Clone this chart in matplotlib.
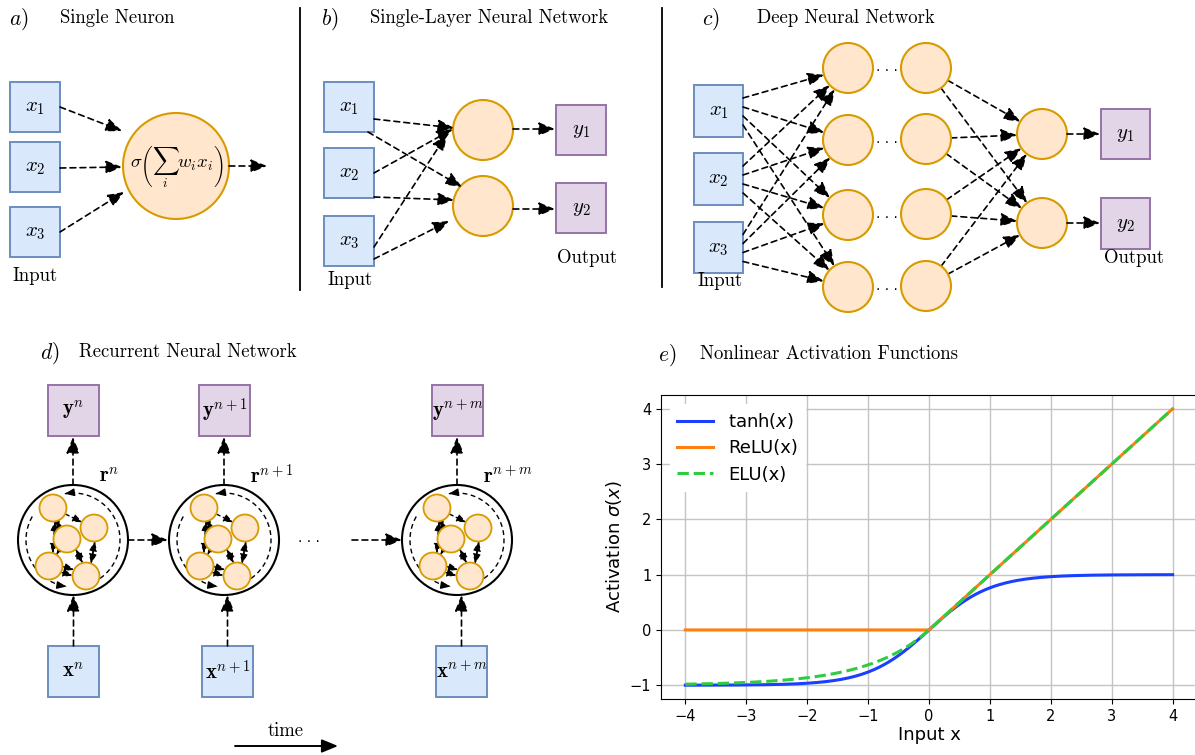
import numpy as np
import matplotlib.pyplot as plt
from matplotlib.patches import Circle, Rectangle

# colours (draw.io palette)
BLUE_FC, BLUE_EC = "#dae8fc", "#6c8ebf"
ORANGE_FC, ORANGE_EC = "#ffe6cc", "#d79b00"
PURPLE_FC, PURPLE_EC = "#e1d5e7", "#9673a6"

# panel headings
panel_letters = ["$a)$", "$b)$", "$c)$", "$d)$", "$e)$"]
panel_titles = ["Single Neuron", "Single-Layer Neural Network", "Deep Neural Network",
                "Recurrent Neural Network", "Nonlinear Activation Functions"]

# node labels
input_labels = ["$x_1$", "$x_2$", "$x_3$"]
output_labels = ["$y_1$", "$y_2$"]
rnn_out_labels = [r"$\mathbf{y}^{n}$", r"$\mathbf{y}^{n+1}$", r"$\mathbf{y}^{n+m}$"]
rnn_in_labels = [r"$\mathbf{x}^{n}$", r"$\mathbf{x}^{n+1}$", r"$\mathbf{x}^{n+m}$"]
rnn_state_labels = [r"$\mathbf{r}^{n}$", r"$\mathbf{r}^{n+1}$", r"$\mathbf{r}^{n+m}$"]

# activation functions (panel e)
x_in = np.linspace(-4, 4, 401)
tanh_y = np.tanh(x_in)
relu_y = np.maximum(x_in, 0)
elu_y = np.where(x_in > 0, x_in, np.exp(x_in) - 1)
x_ticks = [-4, -3, -2, -1, 0, 1, 2, 3, 4]
y_ticks = [-1, 0, 1, 2, 3, 4]

fig = plt.figure(figsize=(11.95, 7.55), dpi=100)
ax = fig.add_axes([0, 0, 1, 1])
ax.set_xlim(0, 1195)
ax.set_ylim(755, 0)
ax.axis("off")


def arrow(x0, y0, x1, y1, lw=1.2, scale=1.15, ls=(0, (3.5, 2.5))):
    ax.annotate("", xy=(x1, y1), xytext=(x0, y0),
                arrowprops=dict(arrowstyle=f"-|>,head_length={0.85 * scale},head_width={0.35 * scale}",
                                lw=lw, ls=ls, color="black", shrinkA=0, shrinkB=0,
                                mutation_scale=10))


def box(x0, y0, x1, y1, fc, ec, label, fs=15):
    ax.add_patch(Rectangle((x0, y0), x1 - x0, y1 - y0, fc=fc, ec=ec, lw=1.4, zorder=3))
    ax.text((x0 + x1) / 2, (y0 + y1) / 2, label, ha="center", va="center",
            fontsize=fs, math_fontfamily="cm", zorder=4)


def neuron(cx, cy, r, lw=1.5):
    ax.add_patch(Circle((cx, cy), r, fc=ORANGE_FC, ec=ORANGE_EC, lw=lw, zorder=3))


def edge(p, q, rp, rq, **kw):
    # dashed arrow from circle/point p to circle q, clipped at the rims
    p, q = np.array(p, float), np.array(q, float)
    u = (q - p) / np.hypot(*(q - p))
    a = p + rp * u
    b = q - rq * u
    arrow(a[0], a[1], b[0], b[1], **kw)


def word(x, y, s, fs=13.5, ha="left"):
    ax.text(x, y, s, ha=ha, va="center", fontsize=fs, family="cmr10")


def letter(x, y, s):
    ax.text(x, y, s, ha="left", va="center", fontsize=15.5, math_fontfamily="cm")


def dots(x, y):
    ax.text(x, y, "· · ·", ha="center", va="center", fontsize=10, zorder=4)


# headings
letter(9, 19, panel_letters[0]); word(60, 18, panel_titles[0])
letter(321, 19, panel_letters[1]); word(370, 18, panel_titles[1])
letter(702, 19, panel_letters[2]); word(757, 18, panel_titles[2])
letter(40, 353, panel_letters[3]); word(79, 352, panel_titles[3])
letter(658, 355, panel_letters[4]); word(700, 354, panel_titles[4])

# separators
ax.plot([300, 300], [8, 290], color="black", lw=1.3)
ax.plot([662, 662], [8, 287], color="black", lw=1.3)

# ---- a) single neuron
a_boxes = [(10, 82, 60, 132), (10, 142, 60, 192), (10, 207, 60, 257)]
for (x0, y0, x1, y1), lab in zip(a_boxes, input_labels):
    box(x0, y0, x1, y1, BLUE_FC, BLUE_EC, lab)
word(35, 276, "Input", ha="center")
neuron(176, 166, 53)
ax.text(177, 166, r"$\sigma\left(\sum_{i} w_i x_i\right)$", ha="center", va="center",
        fontsize=13.5, math_fontfamily="cm", zorder=4)
arrow(60, 107, 122, 131)
arrow(60, 168, 122, 167)
arrow(60, 232, 124, 192)
arrow(229, 166, 267, 166)

# ---- b) single layer
b_boxes = [(324, 82, 374, 132), (324, 148, 374, 198), (324, 216, 374, 266)]
for (x0, y0, x1, y1), lab in zip(b_boxes, input_labels):
    box(x0, y0, x1, y1, BLUE_FC, BLUE_EC, lab)
b_hidden = [(483, 130), (483, 206)]
for c in b_hidden:
    neuron(c[0], c[1], 30)
b_out = [(556, 105, 606, 155), (556, 183, 606, 233)]
for (x0, y0, x1, y1), lab in zip(b_out, output_labels):
    box(x0, y0, x1, y1, PURPLE_FC, PURPLE_EC, lab)
word(350, 280, "Input", ha="center")
word(587, 258, "Output", ha="center")
arrow(374, 119, 454, 128)
arrow(368, 132, 462, 187)
arrow(374, 173, 453, 129)
arrow(374, 197, 454, 200)
arrow(374, 247, 447, 134)
arrow(374, 259, 449, 221)
arrow(513, 129, 555, 129)
arrow(513, 209, 555, 209)

# ---- c) deep network
c_boxes = [(694, 85, 743, 137), (694, 153, 743, 205), (694, 222, 743, 273)]
for (x0, y0, x1, y1), lab in zip(c_boxes, input_labels):
    box(x0, y0, x1, y1, BLUE_FC, BLUE_EC, lab)
layer1 = [(848, 68), (848, 140), (848, 215), (848, 287)]
layer2 = [(926, 68), (926, 139), (926, 214), (926, 286)]
c_out = [(1042, 134), (1042, 223)]
c_ybox = [(1101, 109, 1150, 159), (1101, 198, 1150, 249)]
starts = [-13, -4, 5, 14]
for (x0, y0, x1, y1) in c_boxes:
    yc = (y0 + y1) / 2
    for j, c in enumerate(layer1):
        edge((x1, yc + starts[j]), c, 0, 25)
for c in layer2:
    for o in c_out:
        edge(c, o, 25, 25)
for c in layer1 + layer2 + c_out:
    neuron(c[0], c[1], 25)
for c1 in layer1:
    dots(887, c1[1] + 3)
for (x0, y0, x1, y1), lab in zip(c_ybox, output_labels):
    box(x0, y0, x1, y1, PURPLE_FC, PURPLE_EC, lab)
arrow(1067, 134, 1100, 134)
arrow(1067, 223, 1100, 223)
word(720, 281, "Input", ha="center")
word(1134, 258, "Output", ha="center")

# ---- d) recurrent network
rnn_cx = [73, 224, 457]
rnn_cy = 540
rnn_r = 55
y_boxes = [(48, 385, 99, 436), (199, 385, 250, 436), (432, 385, 483, 436)]
x_boxes = [(48, 646, 99, 697), (202, 646, 253, 697), (436, 646, 487, 697)]
sub_rel = [(-20, -32), (-6, -1), (21, -12), (-24, 26), (13, 36)]
sub_links = [(0, 3, -3), (3, 0, 3), (1, 0, -2), (0, 1, 2), (0, 2, 0), (2, 4, -3), (4, 2, 3),
             (1, 4, -3), (4, 1, 3), (3, 4, -3), (3, 4, 3), (1, 3, 0)]

for k, cx in enumerate(rnn_cx):
    ax.add_patch(Circle((cx, rnn_cy), rnn_r, fc="white", ec="black", lw=1.5, zorder=2))
    subs = [(cx + dx, rnn_cy + dy) for dx, dy in sub_rel]
    # outer recurrent loops
    t = np.radians(np.linspace(-65, 100, 60))
    lx, ly = cx + 47 * np.cos(t), rnn_cy - 47 * np.sin(t)
    ax.plot(lx, ly, color="black", lw=1.0, ls=(0, (3.5, 2.5)), zorder=2.5)
    arrow(lx[-2], ly[-2], lx[-1], ly[-1], lw=1.0, scale=0.65, ls="-")
    t = np.radians(np.linspace(150, 262, 50))
    lx, ly = cx + 47 * np.cos(t), rnn_cy - 47 * np.sin(t)
    ax.plot(lx, ly, color="black", lw=1.0, ls=(0, (3.5, 2.5)), zorder=2.5)
    arrow(lx[-2], ly[-2], lx[-1], ly[-1], lw=1.0, scale=0.65, ls="-")
    for i, j, off in sub_links:
        p, q = np.array(subs[i], float), np.array(subs[j], float)
        u = (q - p) / np.hypot(*(q - p))
        n = np.array([-u[1], u[0]])
        a = p + 13 * u + off * n
        b = q - 13 * u + off * n
        arrow(a[0], a[1], b[0], b[1], lw=1.0, scale=0.65)
    for sx, sy in subs:
        neuron(sx, sy, 13.5, lw=1.3)

    x0, y0, x1, y1 = y_boxes[k]
    box(x0, y0, x1, y1, PURPLE_FC, PURPLE_EC, rnn_out_labels[k], fs=15)
    x0, y0, x1, y1 = x_boxes[k]
    box(x0, y0, x1, y1, BLUE_FC, BLUE_EC, rnn_in_labels[k], fs=15)
    arrow((x_boxes[k][0] + x_boxes[k][2]) / 2, 646, (x_boxes[k][0] + x_boxes[k][2]) / 2, rnn_cy + rnn_r)
    arrow(cx, rnn_cy - rnn_r, cx, 437)
    ax.text(cx + 26, 476, rnn_state_labels[k], ha="left", va="center", fontsize=15,
            math_fontfamily="cm")

arrow(128, 540, 168, 540)
dots(309, 542)
arrow(352, 540, 402, 540)
word(286, 731, "time", ha="center")
arrow(235, 746, 338, 746, lw=1.4, ls="-")

# ---- e) activation functions
ax2 = fig.add_axes([661 / 1195, (755 - 699) / 755, 536 / 1195, 304 / 755])
ax2.plot(x_in, tanh_y, color="#1a3fff", lw=2.2, label="tanh($x$)")
ax2.plot(x_in, relu_y, color="#ff7f0e", lw=2.2, label="ReLU(x)")
ax2.plot(x_in, elu_y, color="#2ecc40", lw=2.2, ls="--", label="ELU(x)")
ax2.set_xticks(x_ticks)
ax2.set_yticks(y_ticks)
ax2.tick_params(labelsize=10.5)
ax2.grid(True, color="#c4c4c4", lw=1.0)
ax2.set_axisbelow(True)
ax2.set_xlabel("Input x", fontsize=13, labelpad=2)
ax2.set_ylabel(r"Activation $\sigma(x)$", fontsize=13)
leg = ax2.legend(loc="upper left", fontsize=13, frameon=True, framealpha=1,
                 edgecolor="white", facecolor="white", labelspacing=0.45)

fig.savefig("out.png", dpi=100)
